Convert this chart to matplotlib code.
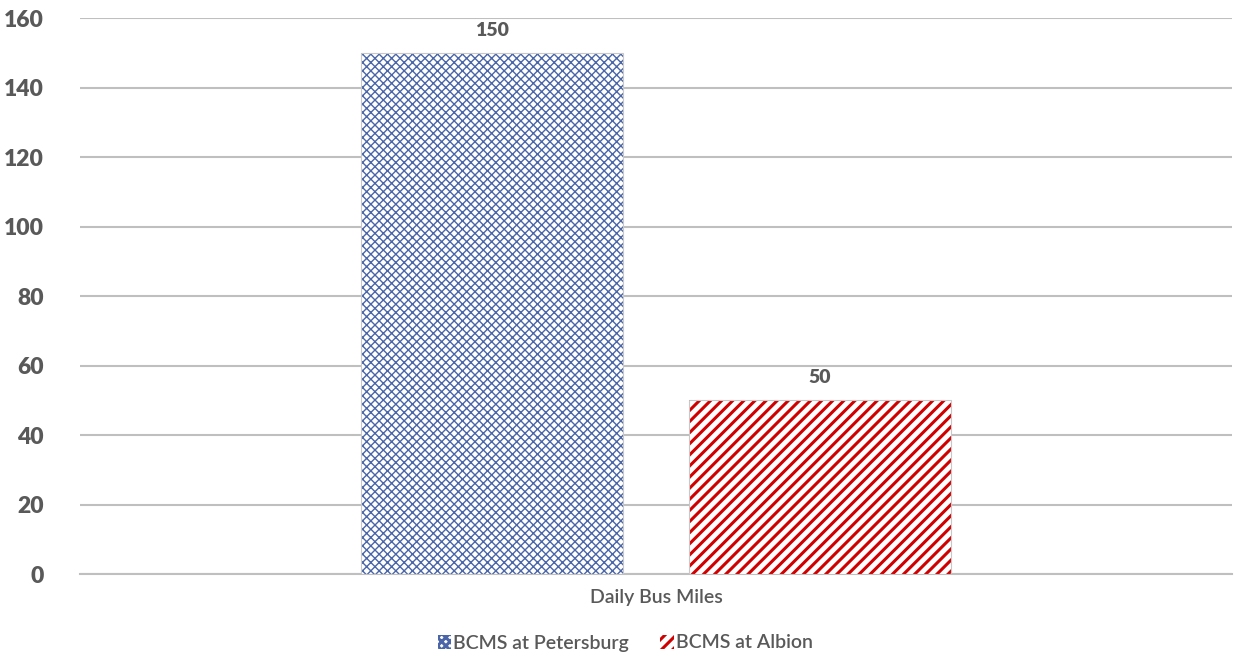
import matplotlib.pyplot as plt
from matplotlib.patches import Patch

category = 'Daily Bus Miles'
series = ['BCMS at Petersburg', 'BCMS at Albion']
values = [150, 50]
colors = ['#4A66A8', '#D00000']
hatches = ['xxxx', '///']
hatch_widths = [1.0, 2.2]
yticks = [0, 20, 40, 60, 80, 100, 120, 140, 160]

plt.rcParams['font.family'] = ['Lato', 'DejaVu Sans']
text_color = '#595959'
grid_color = '#BFBFBF'

fig = plt.figure(figsize=(12.38, 6.57), dpi=100)
ax = fig.add_axes([0.0646, 0.1263, 0.9306, 0.8463])

width = 0.2274
offsets = [-0.142, 0.142]
handles = []
for val, off, col, h, hw in zip(values, offsets, colors, hatches, hatch_widths):
    plt.rcParams['hatch.linewidth'] = hw
    ax.bar(off, val, width=width, color='white', edgecolor=col, hatch=h,
           linewidth=0, zorder=3)
    handles.append(Patch(facecolor='white', edgecolor=col, hatch=h, linewidth=0))
    ax.bar(off, val, width=width, fill=False, edgecolor='#C8C8C8',
           linewidth=0.8, zorder=4)
    ax.text(off, val + 4.0, str(val), ha='center', va='bottom',
            fontsize=14, fontweight='heavy', color=text_color)

ax.set_xlim(-0.5, 0.5)
ax.set_ylim(0, 160)
ax.set_yticks(yticks)
ax.set_yticklabels([str(t) for t in yticks], fontsize=16.5, fontweight='heavy',
                   color=text_color)
ax.set_xticks([0])
ax.set_xticklabels([category], fontsize=14, fontweight='semibold',
                   color=text_color)
ax.tick_params(axis='both', length=0)
ax.tick_params(axis='y', pad=26)
ax.tick_params(axis='x', pad=11)
ax.grid(axis='y', color=grid_color, linewidth=1.5, zorder=0)
for s in ['top', 'right', 'left']:
    ax.spines[s].set_visible(False)
ax.spines['bottom'].set_color(grid_color)
ax.spines['bottom'].set_linewidth(1.5)

leg = fig.legend(handles, series, loc='center',
                 bbox_to_anchor=(0.505, 1 - 643 / 657), ncol=2, frameon=False,
                 handlelength=0.7, handleheight=0.7, handletextpad=0.1,
                 columnspacing=1.6, labelcolor=text_color,
                 prop={'size': 14, 'weight': 'semibold'})

fig.savefig('out.png', dpi=100)
